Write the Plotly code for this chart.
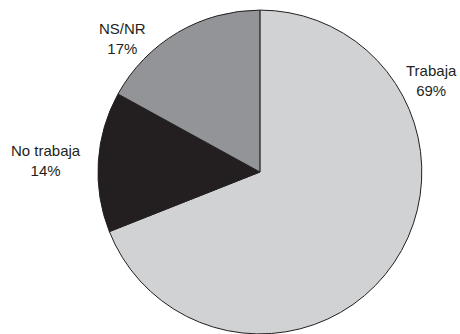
import plotly.graph_objects as go

# Employment status shares (%)
categories = ["Trabaja", "No trabaja", "NS/NR"]
values = [69, 14, 17]
colors = ["#d1d2d4", "#231f20", "#929497"]

# Label anchor points in paper coordinates
label_x = [431 / 460, 46 / 460, 122 / 460]
label_y = [1 - 80 / 334, 1 - 160 / 334, 1 - 39 / 334]

fig = go.Figure(
    go.Pie(
        labels=categories,
        values=values,
        sort=False,
        direction="clockwise",
        rotation=0,
        marker=dict(colors=colors, line=dict(color="#231f20", width=1)),
        textinfo="none",
        hoverinfo="label+percent",
        domain=dict(x=[0.213, 0.917], y=[0.0, 0.970]),
        showlegend=False,
    )
)

total = sum(values)
for cat, val, x, y in zip(categories, values, label_x, label_y):
    fig.add_annotation(
        x=x,
        y=y,
        xref="paper",
        yref="paper",
        text=f"{cat}<br>{round(100 * val / total)}%",
        showarrow=False,
        xanchor="center",
        yanchor="middle",
        align="center",
        font=dict(family="Liberation Sans, Arial, sans-serif", size=15, color="#231f20"),
    )

fig.update_layout(
    width=460,
    height=334,
    margin=dict(l=0, r=0, t=0, b=0),
    paper_bgcolor="white",
    plot_bgcolor="white",
)

fig.write_html("out.html")
